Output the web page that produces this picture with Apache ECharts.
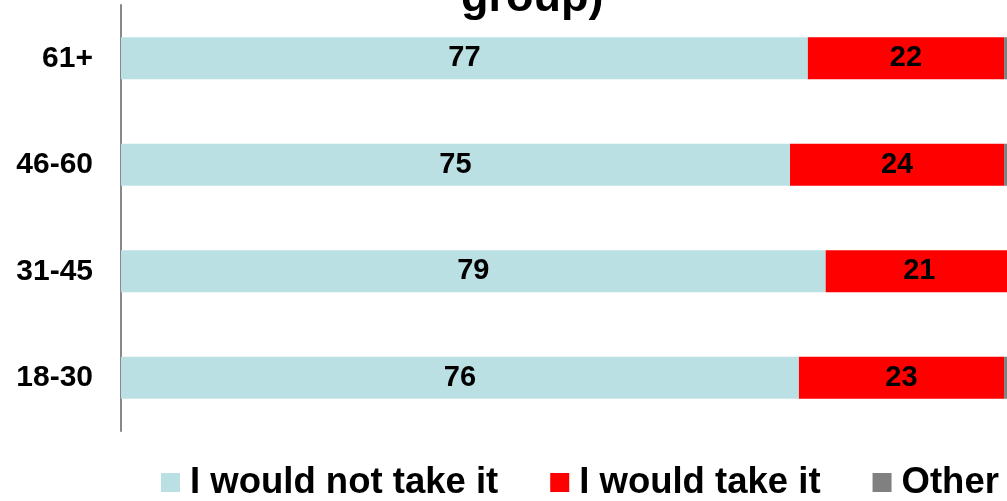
<!DOCTYPE html>
<html>
<head>
<meta charset="utf-8">
<script src="https://cdn.jsdelivr.net/npm/echarts@6/dist/echarts.min.js"></script>
<style>
html,body{margin:0;padding:0;background:#fff;overflow:hidden;}
#chart{width:1013px;height:501px;}
</style>
</head>
<body>
<div id="chart"></div>
<script>
const categories = ['18-30', '31-45', '46-60', '61+'];
const notTake = [76, 79, 75, 77];
const take = [23, 21, 24, 22];
const other = [1, 1, 1, 1];
const seriesNames = ['I would not take it', 'I would take it', 'Other'];
const titleText = 'group)';

const FONT = '"Liberation Sans", Arial, sans-serif';
const chart = echarts.init(document.getElementById('chart'));
const labelStyle = {
  show: true,
  position: 'inside',
  color: '#000',
  fontSize: 29,
  fontWeight: 'bold',
  fontFamily: FONT
};
chart.setOption({
  animation: false,
  backgroundColor: '#fff',
  title: {
    text: titleText,
    left: 461,
    top: -24,
    padding: 0,
    textStyle: {fontSize: 45, fontWeight: 'bold', color: '#000', fontFamily: FONT}
  },
  legend: {
    data: seriesNames,
    left: 161,
    top: 464,
    padding: 0,
    itemGap: 52,
    itemWidth: 19,
    itemHeight: 19,
    icon: 'rect',
    textStyle: {fontSize: 36.5, fontWeight: 'bold', color: '#000', fontFamily: FONT, padding: [0, 0, 0, 5]}
  },
  grid: {left: 121, right: 0, top: 5, bottom: 70, containLabel: false},
  xAxis: {type: 'value', min: 0, max: 100, show: false},
  yAxis: {
    type: 'category',
    data: categories,
    axisLine: {show: true, lineStyle: {color: '#888', width: 2}},
    axisTick: {show: false},
    axisLabel: {fontSize: 30, fontWeight: 'bold', color: '#000', fontFamily: FONT, margin: 28},
    splitLine: {show: false}
  },
  series: [
    {name: seriesNames[0], type: 'bar', stack: 'a', data: notTake, barWidth: 42,
     itemStyle: {color: '#BBE0E3'}, label: labelStyle},
    {name: seriesNames[1], type: 'bar', stack: 'a', data: take, barWidth: 42,
     itemStyle: {color: '#FF0000'}, label: labelStyle},
    {name: seriesNames[2], type: 'bar', stack: 'a', data: other, barWidth: 42,
     itemStyle: {color: '#808080'}, label: {show: false}}
  ]
});
</script>
</body>
</html>
